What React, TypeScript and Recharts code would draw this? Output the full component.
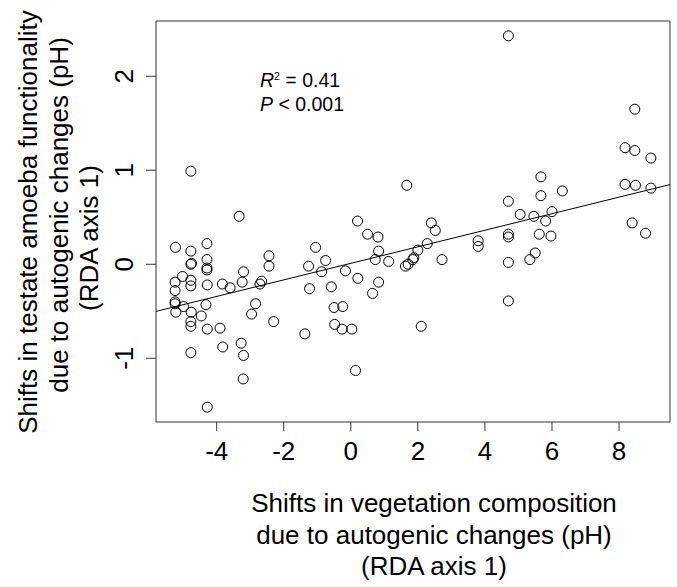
import React from 'react';
import { ScatterChart, Scatter, XAxis, YAxis, ReferenceArea, ReferenceLine } from 'recharts';

const FONT = '"Liberation Sans", Arial, Helvetica, sans-serif';

// RDA axis 1 scores, vegetation (x) vs testate amoebae (y)
const vegShift = [
  -4.77, -3.33, -5.23, -4.77, -4.29, -4.29, -4.77, -4.75, -4.29, -4.29,
  -3.2, -2.44, -2.44, -1.05, -1.26, -0.75, -0.87, -0.16, 0.2, 0.5,
  0.81, 0.83, 0.73, 1.13, 4.7, 8.47, 8.18, 8.47, 8.95, 8.18,
  8.49, 8.95, 8.39, 8.79, 1.67, 5.67, 5.67, 6.31, 4.7, 5.05,
  5.46, 6.0, 5.81, 5.62, 5.97, 4.7, 4.7, 3.8, 3.8, 2.4,
  2.52, 2.28, 2.0, 1.88, 1.85, 1.71, 1.63, 2.72, 5.5, 5.34,
  4.7, 4.7, 2.1, -5.24, -5.02, -5.24, -5.24, -5.24, -5.22, -4.99,
  -4.77, -4.77, -4.76, -4.77, -4.77, -4.77, -4.32, -4.46, -4.28, -4.28,
  -4.28, -3.83, -3.6, -3.9, -3.82, -3.24, -2.84, -2.96, -3.27, -3.2,
  -3.21, -2.66, -2.71, -2.3, -1.23, -1.37, -0.58, -0.5, -0.24, -0.48,
  -0.26, 0.03, 0.21, 0.14, 0.65, 0.83,
];
const amoebaShift = [
  0.99, 0.51, 0.18, 0.14, 0.22, 0.05, 0.0, 0.01, -0.06, -0.04,
  -0.08, 0.09, -0.02, 0.18, -0.02, 0.04, -0.08, -0.07, 0.46, 0.32,
  0.29, 0.14, 0.05, 0.03, 2.43, 1.65, 1.24, 1.21, 1.13, 0.85,
  0.84, 0.81, 0.44, 0.33, 0.84, 0.93, 0.73, 0.78, 0.67, 0.53,
  0.51, 0.56, 0.46, 0.32, 0.3, 0.32, 0.29, 0.25, 0.19, 0.44,
  0.36, 0.22, 0.15, 0.07, 0.05, 0.0, -0.02, 0.05, 0.12, 0.05,
  0.02, -0.39, -0.66, -0.19, -0.13, -0.28, -0.4, -0.42, -0.51, -0.45,
  -0.17, -0.23, -0.51, -0.61, -0.66, -0.94, -0.43, -0.55, -0.22, -0.69,
  -1.52, -0.21, -0.25, -0.68, -0.88, -0.19, -0.42, -0.53, -0.84, -0.97,
  -1.22, -0.18, -0.21, -0.61, -0.26, -0.74, -0.24, -0.46, -0.45, -0.64,
  -0.69, -0.69, -0.15, -1.13, -0.31, -0.19,
];

const xTicks = [-4, -2, 0, 2, 4, 6, 8];
const yTicks = [-1, 0, 1, 2];
const xDomain: [number, number] = [-5.81, 9.52];
const yDomain: [number, number] = [-1.678, 2.588];

const fitIntercept = 0.01;
const fitSlope = 0.088;

const xTitle = ['Shifts in vegetation composition', 'due to autogenic changes (pH)', '(RDA axis 1)'];
const yTitle = ['Shifts in testate amoeba functionality', 'due to autogenic changes (pH)', '(RDA axis 1)'];
// vertical centre of each y title line (they are not aligned in the original)
const yTitleMid = [222, 215, 238];

const points = vegShift.map((x, i) => ({ x, y: amoebaShift[i] }));

const XTick = (props: any) => {
  const { x, y, payload } = props;
  return (
    <text x={x} y={y + 29} textAnchor="middle" fontSize={26} fill="#000" fontFamily={FONT}>
      {payload.value}
    </text>
  );
};

const YTick = (props: any) => {
  const { x, y, payload } = props;
  const bx = x - 13;
  return (
    <text x={bx} y={y} transform={`rotate(-90, ${bx}, ${y})`} textAnchor="middle" fontSize={26} fill="#000" fontFamily={FONT}>
      {payload.value}
    </text>
  );
};

const XTitle = () => (
  <g fontFamily={FONT} fontSize={26} fill="#000">
    {xTitle.map((t, i) => (
      <text key={t} x={434} y={512 + i * 31.5} textAnchor="middle">{t}</text>
    ))}
  </g>
);

const YTitle = () => (
  <g fontFamily={FONT} fontSize={26} fill="#000">
    {yTitle.map((t, i) => {
      const bx = 37 + i * 30.5;
      const my = yTitleMid[i];
      return (
        <text key={t} x={bx} y={my} transform={`rotate(-90, ${bx}, ${my})`} textAnchor="middle">{t}</text>
      );
    })}
    <text x={260} y={87} fontSize={19.5}>
      <tspan fontStyle="italic">R</tspan>
      <tspan fontSize={10.5} dy={-7}>2</tspan>
      <tspan dy={7}> = 0.41</tspan>
    </text>
    <text x={260} y={111} fontSize={19.5}>
      <tspan fontStyle="italic">P</tspan>
      <tspan> &lt; 0.001</tspan>
    </text>
  </g>
);

const Dot = (p: any) => <circle cx={p.cx} cy={p.cy} r={5} fill="none" stroke="#000" strokeWidth={1} />;

export default function App() {
  return (
    <div style={{ position: 'absolute', left: 0, top: 0, width: 677, height: 587, background: '#fff' }}>
      <ScatterChart width={677} height={587} margin={{ top: 21, right: 7, bottom: 0, left: 0 }}>
        <XAxis
          type="number"
          dataKey="x"
          domain={xDomain}
          ticks={xTicks}
          allowDataOverflow
          height={165}
          axisLine={false}
          tickLine={{ stroke: '#333' }}
          tickSize={9}
          tickMargin={0}
          tick={<XTick />}
          label={<XTitle />}
        />
        <YAxis
          type="number"
          dataKey="y"
          domain={yDomain}
          ticks={yTicks}
          allowDataOverflow
          width={156}
          axisLine={false}
          tickLine={{ stroke: '#333' }}
          tickSize={10}
          tickMargin={0}
          tick={<YTick />}
          label={<YTitle />}
        />
        <ReferenceArea x1={xDomain[0]} x2={xDomain[1]} y1={yDomain[0]} y2={yDomain[1]} fill="none" stroke="#333" strokeWidth={1} ifOverflow="visible" />
        <ReferenceLine
          segment={[
            { x: xDomain[0], y: fitIntercept + fitSlope * xDomain[0] },
            { x: xDomain[1], y: fitIntercept + fitSlope * xDomain[1] },
          ]}
          stroke="#000"
          strokeWidth={1}
          ifOverflow="visible"
        />
        <Scatter data={points} shape={<Dot />} isAnimationActive={false} />
      </ScatterChart>
    </div>
  );
}
